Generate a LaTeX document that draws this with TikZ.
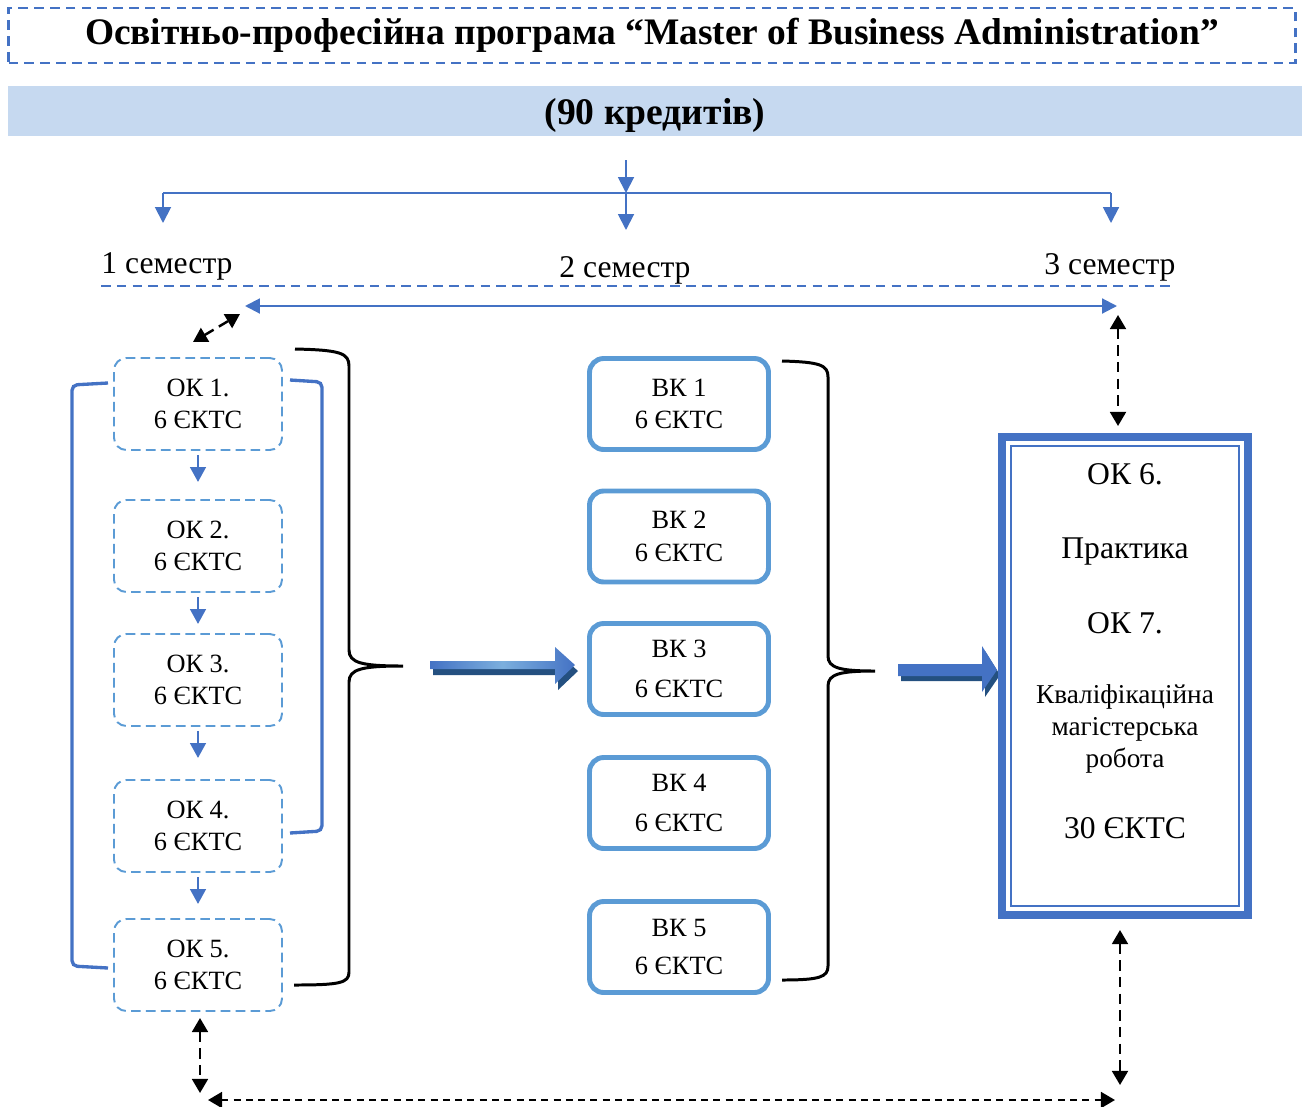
\documentclass[tikz,border=0pt]{standalone}
\usepackage{fontspec}
\setmainfont{Liberation Serif}
\usetikzlibrary{positioning}
\usetikzlibrary{arrows.meta,shapes}
\usetikzlibrary{calc}

\definecolor{mainblue}{RGB}{68,114,196}
\definecolor{lightblue}{RGB}{91,155,213}
\definecolor{bandblue}{RGB}{198,217,240}
\definecolor{darkblue}{RGB}{36,80,128}

\tikzset{
  titlebox/.style={draw=mainblue, line width=1.5pt, dash pattern=on 5.5pt off 3.5pt,
    minimum width=25.74cm, minimum height=1.1cm, font=\fontsize{21.3}{25}\bfseries},
  band/.style={fill=bandblue, minimum width=25.88cm, minimum height=1cm, inner ysep=1pt,
    text height=20pt, text depth=4.5pt, font=\fontsize{21.4}{25}\bfseries},
  semlabel/.style={anchor=base, inner sep=0pt, font=\fontsize{18}{21}\selectfont},
  okbox/.style={draw=lightblue, line width=1.1pt, dash pattern=on 5.5pt off 3pt, rounded corners=7pt,
    minimum width=3.36cm, minimum height=1.84cm, align=center, font=\fontsize{15}{18.5}\selectfont},
  vkbox/.style={draw=lightblue, line width=2.8pt, rounded corners=8pt,
    minimum width=3.58cm, minimum height=1.82cm, align=center, font=\fontsize{15}{18.5}\selectfont},
  finbox/.style={draw=mainblue, line width=4.5pt, minimum width=4.92cm, minimum height=9.56cm},
  fintext/.style={anchor=base, inner sep=0pt, font=\fontsize{18}{21}\selectfont},
  bluearr/.style={mainblue, line width=1.1pt, -{Triangle[length=9pt,width=9pt]}},
  smallarr/.style={mainblue, line width=1.2pt, -{Triangle[length=8.5pt,width=9pt]}},
  linkarr/.style={black, line width=1.4pt, dash pattern=on 6pt off 3.5pt,
    {Triangle[length=8pt,width=9pt]}-{Triangle[length=8pt,width=9pt]}},
  bracket/.style={mainblue, line width=1.9pt, rounded corners=3pt},
  curly/.style={black, line width=1.7pt},
}

\begin{document}
\begin{tikzpicture}[x=0.02cm, y=-0.02cm]
\useasboundingbox (0,0) rectangle (1305,1106);

% header
\node[titlebox] (title) at (652,35.5) {Освітньо-професійна програма “Master of Business Administration”};
\node[band] (credits) at (655,111) {(90 кредитів)};

% semesters
\coordinate (start) at (626,160);
\coordinate (split) at (626,193);
\coordinate (s1) at (163,193);
\coordinate (s3) at (1111,193);
\draw[mainblue, line width=1.1pt] (s1) -- (s3);
\draw[bluearr] (start) -- (split);
\draw[bluearr] (s1) -- ++(0,30);
\draw[bluearr] (split) -- ++(0,37);
\draw[bluearr] (s3) -- ++(0,30);

\node[semlabel] (sem1) at (167,273) {1 семестр};
\node[semlabel] (sem2) at (625,277) {2 семестр};
\node[semlabel] (sem3) at (1110,274) {3 семестр};
\draw[mainblue, line width=1.5pt, dash pattern=on 5.5pt off 3.5pt] (101,286) -- (1172,286);

\coordinate (spanl) at (245,306);
\coordinate (spanr) at (1117,306);
\draw[mainblue, line width=1.2pt, {Triangle[length=8.5pt,width=8.5pt]}-{Triangle[length=8.5pt,width=8.5pt]}] (spanl) -- (spanr);

% semester 1
\node[okbox] (ok1) at (198,404) {ОК 1.\\6 ЄКТС};
\node[okbox] (ok2) at (198,546) {ОК 2.\\6 ЄКТС};
\node[okbox] (ok3) at (198,680) {ОК 3.\\6 ЄКТС};
\node[okbox] (ok4) at (198,826) {ОК 4.\\6 ЄКТС};
\node[okbox] (ok5) at (198,965) {ОК 5.\\6 ЄКТС};
\foreach \a/\b in {ok1/ok2,ok2/ok3,ok3/ok4,ok4/ok5}
  \draw[smallarr] ($(\a.south)+(0,4)$) -- ++(0,27);

\draw[bracket] (108,383) -- (72,385) -- (72,966) -- (108,968);
\draw[bracket] (290,380) -- (322,382) -- (322,831) -- (290,833);
\draw[curly] (295,349) .. controls (340,350) and (349,353) .. (349,366) -- (349,650)
  .. controls (349,663) and (362,666) .. (403,666) .. controls (362,666) and (349,669) .. (349,682)
  -- (349,972) .. controls (349,983) and (340,985) .. (294,985);

% arrow 1
\fill[darkblue] (433,667) -- (558,667) -- (558,653) -- (578,671) -- (558,690) -- (558,675) -- (433,675) -- cycle;
\shade[left color=mainblue, right color=mainblue, middle color=lightblue!80!white]
  (430,661) -- (555,661) -- (555,647) -- (575,665) -- (555,684) -- (555,669) -- (430,669) -- cycle;

% semester 2
\node[vkbox] (vk1) at (679,404) {ВК 1\\6 ЄКТС};
\node[vkbox] (vk2) at (679,536.5) {ВК 2\\6 ЄКТС};
\node[vkbox] (vk3) at (679,669) {ВК 3\\[4pt]6 ЄКТС};
\node[vkbox] (vk4) at (679,803) {ВК 4\\[4pt]6 ЄКТС};
\node[vkbox] (vk5) at (679,947) {ВК 5\\[3pt]6 ЄКТС};

\draw[curly] (782,361) .. controls (820,362) and (828,365) .. (828,377) -- (828,656)
  .. controls (828,668) and (840,671) .. (875,671) .. controls (840,671) and (828,674) .. (828,686)
  -- (828,966) .. controls (828,977) and (820,980) .. (782,980);

% arrow 2
\fill[darkblue] (901,669) -- (985,669) -- (985,651) -- (1000,675) -- (985,697) -- (985,681) -- (901,681) -- cycle;
\fill[mainblue] (898,664) -- (982,664) -- (982,646) -- (997,670) -- (982,692) -- (982,676) -- (898,676) -- cycle;

% semester 3
\node[finbox] (fin) at (1125,676) {};
\draw[mainblue, line width=1.1pt] ($(fin.south west)+(13,-13)$) rectangle ($(fin.north east)+(-13,13)$);
\node[fintext] (fin6) at (1125,484) {ОК 6.};
\node[fintext] (finprac) at (1125,558) {Практика};
\node[fintext] (fin7) at (1125,633) {ОК 7.};
\node[align=center, inner sep=0pt, font=\fontsize{15.5}{18.2}\selectfont] (finwork) at (1125,729)
  {Кваліфікаційна\\магістерська\\робота};
\node[fintext] (fincred) at (1125,838) {30 ЄКТС};

% links
\coordinate (d1) at (193,342);
\coordinate (d2) at (240,314);
\draw[linkarr] (d1) -- (d2);
\coordinate (r1) at (1118,315);
\coordinate (r2) at (1118,426);
\draw[linkarr] (r1) -- (r2);
\coordinate (b1) at (200,1018);
\coordinate (b2) at (200,1093);
\draw[linkarr] (b1) -- (b2);
\coordinate (b3) at (1120,930);
\coordinate (b4) at (1120,1085);
\draw[linkarr] (b3) -- (b4);
\coordinate (b5) at (208,1100);
\coordinate (b6) at (1115,1100);
\draw[linkarr, dash pattern=on 4pt off 3pt] (b5) -- (b6);

\end{tikzpicture}
\end{document}
